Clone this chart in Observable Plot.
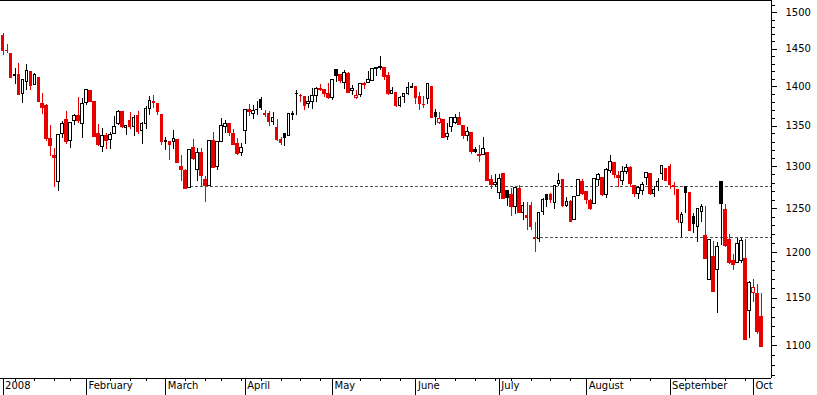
<!DOCTYPE html>
<html><head><meta charset="utf-8">
<script src="https://cdn.jsdelivr.net/npm/d3@7"></script>
<script src="https://cdn.jsdelivr.net/npm/@observablehq/plot@0.6"></script>
<style>
html,body{margin:0;padding:0;background:#fff;overflow:hidden}
#chart svg rect, #chart svg line, #chart svg path {shape-rendering: crispEdges;}
</style></head><body><div id="chart"></div>
<script>
const dates = [
"2008-01-02","2008-01-03","2008-01-04","2008-01-07","2008-01-08","2008-01-09","2008-01-10","2008-01-11","2008-01-14","2008-01-15","2008-01-16","2008-01-17","2008-01-18","2008-01-22","2008-01-23","2008-01-24","2008-01-25","2008-01-28","2008-01-29","2008-01-30","2008-01-31",
"2008-02-01","2008-02-04","2008-02-05","2008-02-06","2008-02-07","2008-02-08","2008-02-11","2008-02-12","2008-02-13","2008-02-14","2008-02-15","2008-02-19","2008-02-20","2008-02-21","2008-02-22","2008-02-25","2008-02-26","2008-02-27","2008-02-28","2008-02-29",
"2008-03-03","2008-03-04","2008-03-05","2008-03-06","2008-03-07","2008-03-10","2008-03-11","2008-03-12","2008-03-13","2008-03-14","2008-03-17","2008-03-18","2008-03-19","2008-03-20","2008-03-24","2008-03-25","2008-03-26","2008-03-27","2008-03-28","2008-03-31",
"2008-04-01","2008-04-02","2008-04-03","2008-04-04","2008-04-07","2008-04-08","2008-04-09","2008-04-10","2008-04-11","2008-04-14","2008-04-15","2008-04-16","2008-04-17","2008-04-18","2008-04-21","2008-04-22","2008-04-23","2008-04-24","2008-04-25","2008-04-28","2008-04-29","2008-04-30",
"2008-05-01","2008-05-02","2008-05-05","2008-05-06","2008-05-07","2008-05-08","2008-05-09","2008-05-12","2008-05-13","2008-05-14","2008-05-15","2008-05-16","2008-05-19","2008-05-20","2008-05-21","2008-05-22","2008-05-23","2008-05-27","2008-05-28","2008-05-29","2008-05-30",
"2008-06-02","2008-06-03","2008-06-04","2008-06-05","2008-06-06","2008-06-09","2008-06-10","2008-06-11","2008-06-12","2008-06-13","2008-06-16","2008-06-17","2008-06-18","2008-06-19","2008-06-20","2008-06-23","2008-06-24","2008-06-25","2008-06-26","2008-06-27","2008-06-30",
"2008-07-01","2008-07-02","2008-07-03","2008-07-07","2008-07-08","2008-07-09","2008-07-10","2008-07-11","2008-07-14","2008-07-15","2008-07-16","2008-07-17","2008-07-18","2008-07-21","2008-07-22","2008-07-23","2008-07-24","2008-07-25","2008-07-28","2008-07-29","2008-07-30","2008-07-31",
"2008-08-01","2008-08-04","2008-08-05","2008-08-06","2008-08-07","2008-08-08","2008-08-11","2008-08-12","2008-08-13","2008-08-14","2008-08-15","2008-08-18","2008-08-19","2008-08-20","2008-08-21","2008-08-22","2008-08-25","2008-08-26","2008-08-27","2008-08-28","2008-08-29",
"2008-09-02","2008-09-03","2008-09-04","2008-09-05","2008-09-08","2008-09-09","2008-09-10","2008-09-11","2008-09-12","2008-09-15","2008-09-16","2008-09-17","2008-09-18","2008-09-19","2008-09-22","2008-09-23","2008-09-24","2008-09-25","2008-09-26","2008-09-29","2008-09-30",
"2008-10-01","2008-10-02","2008-10-03"];

const open = [
1467.97,1447.55,1444.01,1414.07,1415.71,1390.25,1406.78,1419.91,1402.91,1411.88,1377.41,1374.79,1333.90,1312.94,1282.00,1340.13,1357.32,1330.70,1355.94,1362.22,1351.98,
1378.60,1395.38,1380.28,1339.48,1324.01,1336.88,1331.92,1340.55,1353.12,1367.33,1347.52,1355.86,1348.39,1362.21,1344.22,1352.75,1371.76,1378.95,1378.16,1364.07,
1330.45,1329.58,1330.50,1332.20,1299.00,1295.00,1274.40,1323.00,1296.00,1316.05,1283.21,1277.16,1330.97,1299.67,1330.29,1349.07,1352.45,1340.34,1327.02,1315.92,
1344.00,1369.96,1365.69,1369.85,1383.00,1363.50,1365.50,1355.37,1347.00,1332.20,1340.50,1337.02,1363.37,1390.50,1387.72,1386.43,1378.40,1380.52,1387.88,1397.96,1395.61,1391.22,
1385.97,1422.00,1415.34,1405.60,1417.49,1394.29,1386.00,1389.40,1404.40,1405.65,1408.36,1423.89,1425.28,1424.49,1414.06,1390.83,1392.20,1375.97,1386.54,1390.50,1398.36,
1399.62,1386.42,1376.26,1384.00,1400.06,1367.00,1354.00,1357.09,1335.78,1349.00,1354.00,1360.71,1349.59,1336.89,1341.02,1319.77,1312.50,1314.54,1316.29,1283.60,1278.06,
1268.00,1291.00,1271.00,1266.00,1251.84,1273.38,1245.25,1242.00,1253.50,1216.00,1214.65,1246.31,1266.00,1266.00,1257.08,1278.87,1283.22,1253.51,1257.76,1236.38,1264.52,1281.37,
1269.42,1259.00,1254.87,1283.99,1286.51,1266.29,1294.42,1304.79,1288.64,1282.11,1293.85,1298.14,1276.65,1267.34,1271.07,1286.00,1290.47,1267.03,1275.00,1291.00,1296.49,
1300.00,1276.61,1271.80,1233.21,1275.00,1267.98,1240.00,1229.04,1245.88,1218.00,1170.00,1195.00,1181.00,1281.00,1249.00,1214.00,1191.00,1187.87,1191.00,1193.00,1136.00,
1156.00,1155.00,1130.00];

const high = [
1471.77,1456.80,1444.01,1423.87,1430.28,1409.19,1429.09,1419.91,1417.89,1411.88,1391.99,1377.72,1350.28,1322.09,1339.02,1355.15,1368.56,1353.97,1364.93,1385.86,1385.62,
1396.02,1395.38,1380.28,1351.96,1347.16,1341.22,1341.40,1362.10,1369.23,1368.16,1350.00,1367.28,1363.71,1367.94,1354.30,1374.36,1387.34,1388.34,1378.16,1364.07,
1335.13,1331.03,1344.19,1332.20,1313.24,1297.00,1320.65,1333.26,1321.68,1321.47,1287.50,1330.74,1341.51,1330.67,1359.68,1357.47,1352.45,1345.62,1334.87,1328.52,
1370.18,1377.95,1375.66,1380.91,1386.74,1370.16,1368.39,1367.24,1357.98,1335.64,1341.00,1365.49,1368.60,1395.90,1390.23,1386.43,1387.87,1397.72,1399.11,1402.90,1397.00,1404.57,
1410.07,1422.72,1415.34,1421.57,1419.54,1402.35,1394.90,1404.06,1406.30,1420.19,1424.40,1425.82,1440.24,1424.49,1419.12,1399.07,1392.20,1387.40,1391.25,1406.32,1404.46,
1399.62,1393.12,1388.18,1404.05,1400.06,1370.63,1366.84,1357.09,1353.03,1360.03,1364.70,1366.59,1349.59,1347.66,1341.02,1323.78,1326.02,1335.63,1316.29,1289.45,1290.31,
1290.00,1292.17,1271.48,1273.95,1274.17,1277.36,1257.65,1257.27,1257.00,1234.35,1245.52,1262.31,1266.50,1267.74,1277.42,1291.17,1283.22,1263.23,1260.09,1263.20,1284.33,1284.93,
1270.52,1260.49,1284.88,1291.67,1286.51,1297.85,1313.15,1304.79,1294.03,1300.11,1302.05,1300.22,1276.65,1276.01,1281.40,1293.09,1290.47,1275.65,1285.05,1300.68,1297.59,
1303.04,1280.60,1271.80,1244.94,1276.00,1268.66,1243.90,1249.98,1255.09,1252.00,1214.84,1212.00,1211.14,1282.00,1255.37,1220.16,1197.41,1215.77,1215.77,1215.00,1168.03,
1170.00,1165.00,1155.00];

const low = [
1442.07,1443.73,1411.19,1403.45,1388.30,1378.70,1395.31,1394.83,1402.91,1380.60,1364.27,1330.67,1312.51,1274.29,1270.05,1334.31,1327.50,1322.26,1350.19,1352.95,1334.08,
1375.93,1379.69,1336.64,1324.34,1316.75,1321.06,1320.32,1339.36,1350.78,1347.31,1338.13,1345.05,1336.55,1339.34,1327.04,1346.03,1363.29,1372.00,1363.16,1325.42,
1320.04,1307.39,1320.22,1303.42,1282.43,1272.66,1274.40,1307.86,1282.11,1274.86,1256.98,1277.16,1298.42,1295.22,1330.29,1341.21,1336.41,1325.66,1312.95,1312.81,
1326.41,1361.55,1358.68,1362.83,1369.02,1360.62,1349.97,1350.11,1331.21,1326.16,1324.35,1337.02,1357.25,1363.00,1379.25,1369.84,1372.24,1371.09,1379.98,1394.40,1386.70,1384.25,
1383.07,1406.25,1404.37,1397.10,1391.16,1389.39,1384.11,1386.20,1396.26,1405.65,1406.87,1414.35,1421.63,1409.09,1388.81,1390.23,1373.72,1373.07,1378.16,1388.59,1398.08,
1377.79,1370.12,1371.74,1377.48,1359.90,1350.62,1351.56,1335.47,1331.29,1341.71,1352.07,1350.54,1333.40,1330.78,1314.46,1315.31,1304.42,1314.54,1283.15,1272.00,1274.86,
1261.00,1261.51,1252.01,1240.68,1242.84,1244.57,1236.76,1225.35,1225.01,1200.44,1211.39,1241.49,1251.81,1255.70,1248.83,1276.06,1251.48,1251.75,1234.37,1236.38,1264.52,1265.97,
1254.54,1247.45,1254.67,1276.00,1264.29,1262.11,1292.17,1285.64,1274.86,1276.84,1290.74,1274.51,1263.11,1261.16,1265.22,1277.59,1264.87,1263.21,1270.03,1283.79,1282.74,
1272.20,1265.59,1232.83,1217.23,1244.00,1224.51,1221.60,1211.54,1233.81,1192.70,1169.28,1155.88,1133.50,1208.00,1205.61,1187.06,1179.79,1187.87,1187.54,1106.42,1108.00,
1145.00,1111.43,1098.14];

const close = [
1447.16,1447.16,1411.63,1416.18,1390.19,1409.13,1420.33,1401.02,1416.25,1380.95,1373.20,1333.25,1325.19,1310.50,1338.60,1352.07,1330.61,1353.96,1362.30,1355.81,1378.55,
1395.42,1380.82,1336.64,1326.45,1336.91,1331.29,1339.13,1348.86,1367.21,1348.86,1349.99,1348.78,1360.03,1342.53,1353.11,1371.80,1381.29,1380.02,1367.68,1330.63,
1331.34,1326.75,1333.70,1304.34,1296.00,1273.37,1320.65,1309.00,1316.00,1288.14,1276.60,1330.74,1298.42,1329.51,1349.88,1352.99,1341.13,1325.76,1315.22,1322.70,
1370.18,1367.53,1369.31,1370.40,1372.54,1365.54,1354.49,1360.55,1332.83,1328.32,1334.43,1364.71,1365.56,1390.33,1388.17,1375.94,1379.93,1388.82,1397.84,1396.37,1390.94,1385.59,
1409.34,1413.90,1407.49,1418.26,1392.57,1397.68,1388.28,1403.58,1403.04,1408.66,1423.57,1425.35,1426.63,1413.40,1390.71,1394.35,1375.93,1385.35,1390.84,1398.26,1400.38,
1385.67,1377.65,1377.20,1404.05,1360.68,1361.76,1358.44,1335.49,1339.87,1360.03,1360.14,1350.93,1337.81,1342.83,1317.93,1318.00,1314.29,1321.97,1283.15,1278.38,1280.00,
1284.91,1261.52,1262.90,1252.31,1273.70,1244.69,1253.39,1239.49,1228.30,1214.91,1245.36,1260.32,1260.68,1260.00,1277.00,1282.19,1252.54,1257.76,1234.37,1263.20,1284.26,1267.38,
1260.31,1249.01,1284.88,1289.19,1266.07,1296.32,1305.32,1289.59,1285.83,1292.93,1298.20,1278.60,1266.69,1274.54,1277.72,1292.20,1266.84,1271.51,1281.66,1300.68,1282.83,
1277.58,1274.98,1236.83,1242.31,1267.79,1224.51,1232.04,1249.05,1251.70,1192.70,1213.60,1156.39,1206.51,1255.08,1207.09,1188.22,1185.87,1209.18,1213.27,1106.42,1166.36,
1161.06,1114.28,1099.23];

const previousClose = 1468.36;            // close of the session before the first bar
const monthLabels = ["2008","February","March","April","May","June","July","August","September","Oct"];
const yMajorTicks = [1100,1150,1200,1250,1300,1350,1400,1450,1500];
const yMinorTicks = d3.range(1070, 1511, 10).filter(v => v % 50 !== 0);
const levelValues = [1276, 1217];
const levelStarts = ["2008-03-10", "2008-07-15"];

// ---- derived table ----
const RED = "#e60000", BLACK = "#000000";
const rows = dates.map((d, i) => {
  const prev = i === 0 ? previousClose : close[i - 1];
  const color = close[i] > prev ? BLACK : RED;
  return {i, date: new Date(d), o: open[i], h: high[i], l: low[i], c: close[i],
          color, fill: close[i] > open[i] ? "#ffffff" : color};
});
const monthIdx = rows.filter((r, i) => i === 0 || r.date.getUTCMonth() !== rows[i - 1].date.getUTCMonth()).map(r => r.i);
const monthTicks = monthIdx.map((i, k) => ({i, label: monthLabels[k]}));
const weekIdx = rows.filter((r, i) => i > 0 && +d3.utcMonday.floor(r.date) !== +d3.utcMonday.floor(rows[i - 1].date))
  .map(r => r.i)
  .filter(i => !monthIdx.some(m => i - m >= 0 && i - m <= 2));
const levels = levelValues.map((v, k) => ({value: v, from: dates.indexOf(levelStarts[k])}));

const xDomain = [-0.655, 193.55];
const yDomain = [1067.1, 1517.4];

const chart = Plot.plot({
  width: 817, height: 395,
  marginLeft: 0, marginRight: 46, marginTop: 0, marginBottom: 17,
  x: {domain: xDomain},
  y: {type: "log", domain: yDomain},
  color: {type: "identity"},
  style: {fontFamily: "DejaVu Sans", fontSize: "10px", background: "#fff", color: "#000", overflow: "visible"},
  marks: [
    Plot.ruleY(levels, {y: "value", x1: "from", x2: xDomain[1], stroke: "#555", strokeDasharray: "3,2"}),
    Plot.ruleX(rows, {x: "i", y1: "l", y2: "h", stroke: "color"}),
    Plot.rect(rows, {x1: d => d.i - 0.33, x2: d => d.i + 0.33, y1: "o", y2: "c", fill: "fill", stroke: "color"}),
    Plot.ruleY([yDomain[1]], {stroke: "#000"}),
    Plot.ruleY([yDomain[0]], {stroke: "#000"}),
    Plot.ruleX([xDomain[1]], {stroke: "#000"}),
    Plot.axisY(yMajorTicks, {anchor: "right", tickSize: 5, tickPadding: 9, tickFormat: d => String(d), label: null}),
    Plot.axisY(yMinorTicks, {anchor: "right", tickSize: 2.5, tickFormat: () => "", label: null}),
    Plot.axisX(monthIdx, {anchor: "bottom", tickSize: 17, tickFormat: () => "", label: null}),
    Plot.axisX(weekIdx, {anchor: "bottom", tickSize: 3, tickFormat: () => "", label: null}),
    Plot.text(monthTicks, {x: "i", text: "label", frameAnchor: "bottom", textAnchor: "start", lineAnchor: "top", dx: 2, dy: 3, fill: "#000"})
  ]
});
document.getElementById("chart").appendChild(chart);
</script>
</body></html>
